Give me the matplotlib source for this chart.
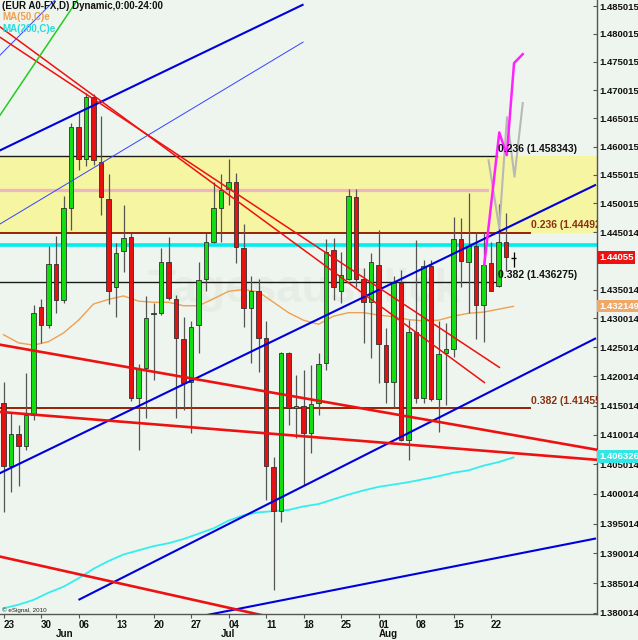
"""
EUR A0-FX daily candles with trendlines, fib levels and moving averages
"""
import matplotlib
matplotlib.use('Agg')
import matplotlib.pyplot as plt
import matplotlib.transforms as mtransforms
from matplotlib.ticker import FixedLocator, FixedFormatter, NullLocator, NullFormatter
import numpy as np

plt.rcParams['font.family'] = ['Liberation Sans', 'DejaVu Sans']

# daily bars, index 0 = Mon 23 May
opens = [1.4155, 1.4048, 1.4102, 1.4082, 1.4134, 1.4320, 1.4288, 1.4395, 1.4332, 1.4493,
         1.4634, 1.4578, 1.4687, 1.4573, 1.4508, 1.4355, 1.4417, 1.4441, 1.4163, 1.4214,
         1.4308, 1.4310, 1.4398, 1.4334, 1.4264, 1.4191, 1.4288, 1.4368, 1.4433, 1.4493,
         1.4525, 1.4538, 1.4422, 1.4318, 1.4348, 1.4266, 1.4046, 1.3972, 1.4240, 1.4147,
         1.4150, 1.4103, 1.4154, 1.4223, 1.4418, 1.4348, 1.4368, 1.4512, 1.4368, 1.4329,
         1.4393, 1.4254, 1.4191, 1.4362, 1.4091, 1.4276, 1.4164, 1.4391, 1.4161, 1.4241,
         1.4247, 1.4438, 1.4398, 1.4426, 1.4323, 1.4396, 1.4357, 1.4433, 1.44055]
highs = [1.4191, 1.4137, 1.4118, 1.4206, 1.4323, 1.4334, 1.4425, 1.4444, 1.4514, 1.4642,
         1.4661, 1.4695, 1.4693, 1.4654, 1.4551, 1.4431, 1.4497, 1.4449, 1.4222, 1.4339,
         1.4327, 1.4423, 1.4441, 1.4341, 1.4303, 1.4295, 1.4398, 1.4448, 1.4537, 1.4551,
         1.4578, 1.4553, 1.4465, 1.4374, 1.4368, 1.4295, 1.4063, 1.4242, 1.4242, 1.4203,
         1.4211, 1.4220, 1.4240, 1.4438, 1.4439, 1.4416, 1.4525, 1.4525, 1.4387, 1.4413,
         1.4454, 1.4283, 1.4374, 1.4384, 1.4297, 1.4436, 1.4401, 1.4401, 1.4295, 1.4292,
         1.4477, 1.4475, 1.4518, 1.4451, 1.4451, 1.4433, 1.4500, 1.4483, 1.4416]
lows = [1.3970, 1.4003, 1.4014, 1.4075, 1.4126, 1.4258, 1.4284, 1.4310, 1.4327, 1.4454,
        1.4559, 1.4565, 1.4568, 1.4480, 1.4325, 1.4302, 1.4380, 1.4158, 1.4075, 1.4129,
        1.4194, 1.4306, 1.4332, 1.4129, 1.4143, 1.4104, 1.4240, 1.4348, 1.4431, 1.4433,
        1.4497, 1.4397, 1.4285, 1.4223, 1.4208, 1.3989, 1.3839, 1.3952, 1.4117, 1.4095,
        1.4015, 1.4069, 1.4134, 1.4211, 1.4332, 1.4327, 1.4367, 1.4355, 1.4257, 1.4232,
        1.4189, 1.4154, 1.4146, 1.4090, 1.4058, 1.4154, 1.4154, 1.4158, 1.4106, 1.4151,
        1.4234, 1.4355, 1.4310, 1.4264, 1.4260, 1.4353, 1.4355, 1.4382, 1.4390]
closes = [1.4048, 1.4102, 1.4082, 1.4134, 1.4310, 1.4288, 1.4395, 1.4332, 1.4492, 1.4635,
          1.4579, 1.4687, 1.4576, 1.4511, 1.4348, 1.4414, 1.4440, 1.4163, 1.4213, 1.4300,
          1.4310, 1.4398, 1.4335, 1.4266, 1.4189, 1.4286, 1.4367, 1.4433, 1.4492, 1.4523,
          1.4538, 1.4424, 1.4318, 1.4348, 1.4266, 1.4048, 1.3972, 1.4240, 1.4147, 1.4149,
          1.4103, 1.4153, 1.4222, 1.4416, 1.4355, 1.4375, 1.4513, 1.4368, 1.4329, 1.4398,
          1.4256, 1.4191, 1.4362, 1.4092, 1.4277, 1.4164, 1.4391, 1.4161, 1.4239, 1.4247,
          1.4438, 1.4400, 1.4426, 1.4323, 1.4393, 1.4348, 1.4433, 1.4407, 1.44055]

# moving averages, read every second bar
ma_idx = list(range(0, 69, 2))
ma50 = [1.4272, 1.4258, 1.4254, 1.4260, 1.4275, 1.4297, 1.4325, 1.4333, 1.4339, 1.4330,
        1.4328, 1.4328, 1.4322, 1.4322, 1.4334, 1.4347, 1.4350, 1.4346, 1.4328, 1.4310,
        1.4297, 1.4290, 1.4304, 1.4310, 1.4310, 1.4306, 1.4303, 1.4298, 1.4296, 1.4297,
        1.4304, 1.4309, 1.4311, 1.4316, 1.4321]
ma200 = [1.3808, 1.3814, 1.3822, 1.3834, 1.3844, 1.3858, 1.3874, 1.3887, 1.3898, 1.3905,
         1.3912, 1.3917, 1.3924, 1.3933, 1.3942, 1.3955, 1.3964, 1.3969, 1.3971, 1.3973,
         1.3979, 1.3983, 1.3991, 1.3999, 1.4006, 1.4012, 1.4016, 1.4020, 1.4025, 1.4030,
         1.4036, 1.4040, 1.4048, 1.4054, 1.4062]

day_ticks = [0, 5, 10, 15, 20, 25, 30, 35, 40, 45, 50, 55, 60, 65]
day_labels = ['23', '30', '06', '13', '20', '27', '04', '11', '18', '25', '01', '08', '15', '22']
months = [(7, 'Jun'), (29, 'Jul'), (50, 'Aug')]

# 1.440014 sits under the last-price box, so it is not listed
price_ticks = [1.485015, 1.480015, 1.475015, 1.470015, 1.465015, 1.460015, 1.455015,
               1.450015, 1.445014, 1.435014, 1.430014, 1.425014, 1.420014,
               1.415014, 1.410014, 1.405014, 1.400014, 1.395014, 1.390014, 1.385014,
               1.380014]

# drawn trendlines: (bar index pair, price pair, colour, width)
trendlines = [
    ([-1, 40], [1.4590, 1.4853], '#0000dd', 1.5),
    ([-1, 40], [1.4460, 1.4786], '#3344ff', 0.7),
    ([-1, 7], [1.4755, 1.4863], '#3344ff', 0.7),
    ([-1, 79], [1.4032, 1.4533], '#0000dd', 1.5),
    ([10, 79], [1.3822, 1.4266], '#0000dd', 1.5),
    ([26, 79], [1.3794, 1.3925], '#0000dd', 1.5),
    ([-1, 66.2], [1.4799, 1.4215], '#ee1111', 1.1),
    ([-1, 64.2], [1.4818, 1.4189], '#ee1111', 1.1),
    ([-1, 80], [1.4256, 1.4073], '#ee1111', 1.9),
    ([-1, 80], [1.4140, 1.4057], '#ee1111', 1.9),
    ([-1, 40], [1.3896, 1.3781], '#ee1111', 1.9),
    ([-1, 11], [1.4645, 1.4884], '#22cc22', 1.1),
]

fib_black = [(1.458343, '0.236 (1.458343)'), (1.436275, '0.382 (1.436275)')]
fib_brown = [(1.444924, '0.236 (1.444924)'), (1.414554, '0.382 (1.414554)')]
fib_black_end = 65.8
fib_brown_end = 70.2
cyan_level = 1.4428
pink_level = 1.4524
pink_end = 64.4

proj_magenta_x = [64.1, 66.1, 67.1, 68.07, 69.23]
proj_magenta_y = [1.4393, 1.4625, 1.4585, 1.4748, 1.4764]
proj_gray_x = [64.67, 66.1, 67.13, 68.13, 69.23]
proj_gray_y = [1.4576, 1.4457, 1.4652, 1.4547, 1.4677]

last_close = 1.44055
ma50_last = 1.432149
ma200_last = 1.406326

BG = '#eef5ee'
GREEN = '#11dd11'
RED = '#e81111'

fig = plt.figure(figsize=(6.38, 6.40), dpi=100, facecolor=BG)
ax = fig.add_axes([0, 26 / 640, 597 / 638, 614 / 640])
ax.set_facecolor(BG)
ax.set_yscale('log')
ax.set_xlim(-0.467, 79.13)
ax.set_ylim(1.379847, 1.486092)

label_shift = mtransforms.offset_copy(ax.transData, fig=fig, x=1, y=1.5, units='points')

# zones and horizontal levels
ax.axhspan(fib_brown[0][0], fib_black[0][0], color='#f5f5a2', zorder=0.5, lw=0)
ax.axhline(cyan_level, color='#00eeee', lw=2.6, zorder=1)
ax.plot([-1, pink_end], [pink_level, pink_level], color='#f0b4c4', lw=2.3, zorder=1)
for level, text in fib_black:
    ax.plot([-1, fib_black_end], [level, level], color='#1a1a1a', lw=1.0, zorder=1.5)
    ax.text(fib_black_end, level, text, transform=label_shift, ha='left', va='bottom',
            fontsize=7.5, fontweight='bold', color='#111111', zorder=6, clip_on=True)
for level, text in fib_brown:
    ax.plot([-1, fib_brown_end], [level, level], color='#992200', lw=1.4, zorder=1.5)
    ax.text(fib_brown_end, level, text, transform=label_shift, ha='left', va='bottom',
            fontsize=7.5, fontweight='bold', color='#8b3010', zorder=6, clip_on=True)

# moving averages
ax.plot(ma_idx, ma50, color='#f0a050', lw=1.0, zorder=2)
ax.plot(ma_idx, ma200, color='#33eeee', lw=1.3, zorder=2)

# watermark
ax.text(40, 1.4349, 'Tagesausblick', fontsize=33, fontweight='bold',
        color='#e5ede5', ha='center', va='center', zorder=1.2, clip_on=True)

# candles
o = np.array(opens)
h = np.array(highs)
l = np.array(lows)
c = np.array(closes)
idx = np.arange(len(o))
flat = np.abs(c - o) < 1e-5
wick_col = np.where(flat, '#000000', '#555555')
ax.vlines(idx, l, h, colors=wick_col, lw=0.9, zorder=3)
body_col = np.where(c >= o, GREEN, RED)
ax.bar(idx[~flat], np.abs(c - o)[~flat], bottom=np.minimum(o, c)[~flat], width=0.64,
       color=body_col[~flat], edgecolor='#303030', linewidth=0.6, zorder=3.5)
ax.hlines(c[flat], idx[flat] - 0.32, idx[flat] + 0.32, colors='#000000', lw=1.0, zorder=3.5)

# drawn trendlines on top of the bars
for xs, ys, col, lw in trendlines:
    ax.plot(xs, ys, color=col, lw=lw, zorder=4, solid_capstyle='butt')

ax.plot(proj_gray_x, proj_gray_y, color='#b8b8b8', lw=1.5, zorder=4.5)
ax.plot(proj_magenta_x, proj_magenta_y, color='#ff22ff', lw=1.8, zorder=4.6)

# axes
for side in ['top', 'left']:
    ax.spines[side].set_visible(False)
for side in ['right', 'bottom']:
    ax.spines[side].set_color('#555555')
    ax.spines[side].set_linewidth(1.0)

ax.yaxis.tick_right()
ax.yaxis.set_major_locator(FixedLocator(price_ticks))
ax.yaxis.set_major_formatter(FixedFormatter(['%.6f' % v for v in price_ticks]))
ax.yaxis.set_minor_locator(NullLocator())
ax.yaxis.set_minor_formatter(NullFormatter())
ax.tick_params(axis='y', direction='in', length=3, pad=1.5, labelsize=6.8,
               color='#555555', labelcolor='#111111')
for lbl in ax.get_yticklabels():
    lbl.set_fontweight('bold')

ax.set_xticks(day_ticks)
ax.set_xticklabels(day_labels)
ax.xaxis.set_minor_locator(NullLocator())
ax.tick_params(axis='x', direction='out', length=3, pad=1, labelsize=7,
               color='#555555', labelcolor='#111111')
for lbl in ax.get_xticklabels():
    lbl.set_fontweight('bold')
    lbl.set_ha('left')

trans_x = mtransforms.blended_transform_factory(ax.transData, ax.transAxes)
for pos, name in months:
    ax.text(pos, -20 / 614, name, transform=trans_x, ha='left', va='center',
            fontsize=7, fontweight='bold', color='#111111', clip_on=False)

# price boxes on the right axis
trans_y = mtransforms.blended_transform_factory(ax.transAxes, ax.transData)
for value, text, col in [(last_close, '1.44055', '#ee1111'),
                         (ma50_last, '%.6f' % ma50_last, '#f0a868'),
                         (ma200_last, '%.6f' % ma200_last, '#33e6e6')]:
    ax.text(1.0 + 2 / 597, value, text, transform=trans_y, ha='left', va='center',
            fontsize=6.8, fontweight='bold', color='white', clip_on=False, zorder=10,
            bbox=dict(boxstyle='square,pad=0.2', fc=col, ec='none'))

# header
fig.text(2 / 638, 1 - 1 / 640, '(EUR A0-FX,D) Dynamic,0:00-24:00', ha='left', va='top',
         fontsize=7, fontweight='bold', color='#111111')
fig.text(2 / 638, 1 - 16.5 / 640, 'MA(50,C)e', ha='left', va='center',
         fontsize=7, fontweight='bold', color='#f0a050')
fig.text(2 / 638, 1 - 29 / 640, 'MA(200,C)e', ha='left', va='center',
         fontsize=7, fontweight='bold', color='#22dddd')
fig.text(2 / 638, 1 - 610 / 640, '\u00a9 eSignal, 2010', ha='left', va='center',
         fontsize=4.5, color='#222222')

fig.savefig('out.png', dpi=100, facecolor=BG)
